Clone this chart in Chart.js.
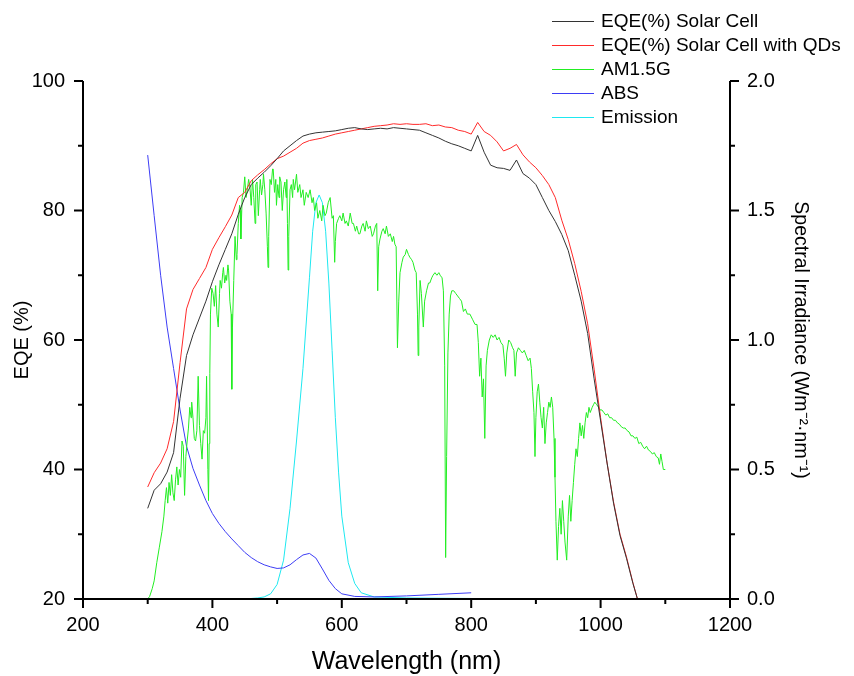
<!DOCTYPE html>
<html>
<head>
<meta charset="utf-8">
<title>EQE and AM1.5G spectrum</title>
<script src="https://cdn.jsdelivr.net/npm/chart.js@4.4.1/dist/chart.umd.min.js"></script>
<style>
    html, body { margin: 0; padding: 0; background: #fff; }
    #wrap { width: 854px; height: 676px; position: relative; }
</style>
</head>
<body>
<div id="wrap"><canvas id="eqeChart"></canvas></div>
<script>
// EQE curves, sampled every 10 nm
const eqeWavelength = [
    300, 310, 320, 330, 340, 350, 360, 370, 380, 390,
    400, 410, 420, 430, 440, 450, 460, 470, 480, 490,
    500, 510, 520, 530, 540, 550, 560, 570, 580, 590,
    600, 610, 620, 630, 640, 650, 660, 670, 680, 690,
    700, 710, 720, 730, 740, 750, 760, 770, 780, 790,
    800, 810, 820, 830, 840, 850, 860, 870, 880, 890,
    900, 910, 920, 930, 940, 950, 960, 970, 980, 990,
    1000, 1010, 1020, 1030, 1040, 1050, 1057
];
const eqeCell = [
    34.0, 36.8, 37.8, 39.6, 42.6, 51.0, 57.6, 60.8, 63.4, 66.0,
    69.0, 71.6, 74.0, 76.4, 79.4, 82.0, 84.0, 85.0, 85.9, 86.9,
    88.0, 89.2, 90.0, 90.8, 91.5, 91.8, 92.0, 92.1, 92.2, 92.3,
    92.5, 92.7, 92.8, 92.6, 92.5, 92.6, 92.7, 92.6, 92.8, 92.7,
    92.6, 92.5, 92.4, 92.0, 91.6, 91.2, 90.7, 90.3, 90.0, 89.6,
    89.2, 91.6, 89.0, 87.0, 86.6, 86.5, 86.2, 87.8, 85.7, 85.0,
    84.0, 82.0, 80.0, 78.3, 76.3, 73.8, 70.0, 66.0, 61.0, 54.0,
    47.5, 41.0, 34.8, 29.8, 26.3, 22.4, 20.0
];
const eqeCellQD = [
    37.3, 39.5, 41.0, 43.2, 47.4, 56.5, 64.8, 67.8, 69.5, 71.2,
    74.0, 75.8, 77.5, 79.3, 82.0, 82.8, 84.6, 85.5, 86.3, 87.2,
    88.0, 88.4, 89.0, 89.6, 90.4, 90.8, 91.0, 91.2, 91.5, 91.8,
    92.0, 92.2, 92.4, 92.6, 92.8, 93.0, 93.1, 93.2, 93.4, 93.3,
    93.4, 93.3, 93.3, 93.4, 93.1, 93.2, 92.9, 92.8, 92.4, 92.2,
    91.8, 93.6, 92.2, 91.6, 90.6, 89.2, 89.6, 90.2, 88.6, 87.5,
    86.6, 85.4, 84.0, 82.0, 78.5, 75.5, 71.8, 67.5, 62.5, 55.5,
    48.0, 41.0, 35.0, 30.0, 26.5, 22.5, 20.0
];

// AM1.5G reference spectrum (W m-2 nm-1)
const amWavelength = [
    300, 303, 307, 310, 314, 318, 322, 325, 327, 329, 331, 333, 335, 337, 339, 341, 343, 345, 347, 349,
    351, 353, 355, 357, 359, 361, 363, 365, 367, 368, 370, 372, 374, 376, 378, 380, 382, 384, 386, 388,
    390, 391, 393, 394, 395, 396, 397, 399, 401, 403, 405, 407, 409, 411, 412, 414, 416, 417, 419, 421,
    422, 424, 425, 427, 429, 430, 431, 433, 435, 437, 438, 440, 442, 443, 444, 446, 448, 450, 452, 454,
    456, 458, 460, 462, 464, 466, 467, 469, 471, 473, 474, 476, 478, 479, 481, 483, 485, 486, 487, 489,
    491, 493, 494, 496, 498, 499, 501, 503, 504, 506, 508, 510, 512, 514, 515, 516, 517, 518, 520, 522,
    524, 525, 527, 530, 532, 535, 537, 540, 542, 545, 548, 551, 554, 556, 558, 561, 563, 566, 569, 571,
    574, 576, 579, 582, 585, 587, 589, 590, 592, 595, 597, 600, 602, 605, 607, 610, 613, 616, 618, 621,
    623, 626, 628, 631, 633, 636, 638, 641, 644, 647, 649, 652, 654, 655.5, 657, 659, 662, 664, 667, 669,
    672, 675, 678, 680, 682, 684, 686, 688, 690, 693, 695, 698, 700, 703, 705, 708, 710, 713, 715, 717,
    718, 719, 721, 723, 726, 728, 731, 734, 736, 739, 741, 744, 747, 750, 752, 755, 757, 759, 760.5, 762,
    764, 766, 768, 770, 773, 776, 779, 782, 785, 788, 791, 794, 798, 802, 806, 809, 811, 813, 815, 817,
    819, 821, 823, 825, 828, 831, 834, 837, 840, 843, 846, 849, 851, 853, 855, 858, 861, 864, 866, 868,
    870, 873, 876, 879, 882, 885, 888, 891, 893, 895, 897, 898.6, 900, 902, 904, 906, 908, 910, 912, 914,
    916, 918, 920, 922, 924, 926, 928, 929.5, 931, 933, 935, 937, 939, 941, 943, 945, 947.6, 950, 952, 954,
    956, 958, 960, 962, 964, 966, 968, 970, 972, 974, 976, 978, 980, 982, 984, 987, 989, 991, 994, 997,
    999, 1002, 1005, 1008, 1011, 1014, 1017, 1020, 1023, 1026, 1029, 1032, 1035, 1038, 1041, 1044, 1047, 1050, 1053, 1056,
    1059, 1062, 1065, 1068, 1071, 1074, 1077, 1080, 1083, 1086, 1089, 1091, 1093, 1095, 1097, 1100
];
const amIrradiance = [
    0.00, 0.01, 0.04, 0.07, 0.14, 0.20, 0.26, 0.32, 0.38, 0.43, 0.37, 0.45, 0.40, 0.48, 0.41, 0.38, 0.46, 0.51, 0.44, 0.50,
    0.47, 0.61, 0.59, 0.40, 0.55, 0.61, 0.66, 0.74, 0.70, 0.76, 0.70, 0.62, 0.61, 0.65, 0.86, 0.67, 0.60, 0.54, 0.65, 0.64,
    0.70, 0.86, 0.50, 0.38, 0.60, 0.87, 1.10, 1.20, 1.18, 1.13, 1.21, 1.10, 1.05, 1.18, 1.23, 1.20, 1.26, 1.28, 1.22, 1.25,
    1.23, 1.29, 1.27, 1.15, 1.10, 0.81, 1.05, 1.23, 1.40, 1.31, 1.33, 1.45, 1.52, 1.50, 1.39, 1.55, 1.57, 1.63, 1.55, 1.58,
    1.62, 1.59, 1.52, 1.62, 1.55, 1.45, 1.60, 1.61, 1.48, 1.58, 1.62, 1.56, 1.60, 1.64, 1.58, 1.49, 1.36, 1.28, 1.40, 1.62,
    1.60, 1.66, 1.66, 1.57, 1.62, 1.52, 1.60, 1.55, 1.63, 1.61, 1.50, 1.58, 1.61, 1.55, 1.62, 1.45, 1.27, 1.40, 1.58, 1.60,
    1.55, 1.62, 1.58, 1.64, 1.57, 1.60, 1.55, 1.58, 1.52, 1.57, 1.55, 1.58, 1.53, 1.55, 1.50, 1.53, 1.47, 1.50, 1.46, 1.52,
    1.48, 1.49, 1.53, 1.55, 1.47, 1.48, 1.30, 1.38, 1.45, 1.47, 1.48, 1.46, 1.49, 1.45, 1.46, 1.44, 1.49, 1.45, 1.45, 1.42,
    1.44, 1.41, 1.41, 1.44, 1.45, 1.42, 1.46, 1.43, 1.44, 1.40, 1.41, 1.44, 1.45, 1.19, 1.36, 1.39, 1.42, 1.43, 1.41, 1.44,
    1.40, 1.41, 1.38, 1.40, 1.37, 1.36, 0.97, 1.15, 1.26, 1.30, 1.32, 1.33, 1.35, 1.33, 1.32, 1.31, 1.30, 1.27, 1.26, 1.10,
    0.94, 1.05, 1.23, 1.18, 1.05, 1.15, 1.19, 1.22, 1.22, 1.24, 1.25, 1.26, 1.25, 1.26, 1.25, 1.24, 1.19, 0.90, 0.16, 0.55,
    0.95, 1.10, 1.17, 1.19, 1.19, 1.18, 1.17, 1.16, 1.15, 1.11, 1.12, 1.10, 1.10, 1.08, 1.06, 1.06, 0.99, 0.86, 0.93, 0.78,
    0.85, 0.62, 0.90, 0.96, 1.00, 1.02, 1.01, 1.02, 1.00, 1.01, 0.99, 0.98, 0.93, 0.86, 0.95, 1.00, 0.99, 0.97, 0.96, 0.86,
    0.95, 0.97, 0.96, 0.95, 0.96, 0.94, 0.92, 0.93, 0.89, 0.80, 0.72, 0.55, 0.70, 0.80, 0.83, 0.76, 0.70, 0.66, 0.74, 0.60,
    0.68, 0.72, 0.76, 0.74, 0.78, 0.74, 0.62, 0.47, 0.30, 0.15, 0.28, 0.35, 0.25, 0.38, 0.30, 0.22, 0.15, 0.32, 0.40, 0.30,
    0.38, 0.45, 0.52, 0.58, 0.55, 0.62, 0.68, 0.63, 0.67, 0.62, 0.68, 0.72, 0.70, 0.74, 0.72, 0.74, 0.75, 0.76, 0.75, 0.74,
    0.73, 0.73, 0.72, 0.71, 0.715, 0.70, 0.70, 0.69, 0.69, 0.68, 0.675, 0.665, 0.66, 0.66, 0.65, 0.645, 0.63, 0.63, 0.62, 0.625,
    0.60, 0.605, 0.59, 0.58, 0.59, 0.575, 0.57, 0.56, 0.565, 0.55, 0.545, 0.52, 0.56, 0.53, 0.50, 0.50
];

// normalised absorbance of the QD film
const absWavelength = [
    300, 310, 320, 330, 340, 350, 360, 370, 380, 390, 400, 410, 420, 430, 440, 450, 460, 470,
    480, 490, 500, 510, 520, 530, 540, 550, 560, 570, 580, 590, 600, 620, 650, 700, 750, 800
];
const absValue = [
    0.857, 0.740, 0.625, 0.525, 0.445, 0.365, 0.295, 0.252, 0.220, 0.190, 0.165, 0.146, 0.130, 0.116, 0.103, 0.090, 0.080, 0.072,
    0.066, 0.062, 0.059, 0.060, 0.066, 0.076, 0.085, 0.088, 0.079, 0.058, 0.036, 0.020, 0.010, 0.005, 0.004, 0.006, 0.009, 0.012
];

// normalised QD emission
const emWavelength = [
    400, 450, 470, 480, 490, 500, 510, 520, 530, 540, 550, 555, 560, 565, 570,
    575, 580, 585, 590, 595, 600, 610, 620, 630, 650, 700, 800
];
const emValue = [
    0.000, 0.000, 0.002, 0.004, 0.010, 0.028, 0.075, 0.175, 0.305, 0.445, 0.620, 0.710, 0.765, 0.780, 0.765,
    0.710, 0.610, 0.480, 0.350, 0.245, 0.160, 0.070, 0.030, 0.012, 0.004, 0.002, 0.001
];

// axis ticks
const xTickValues = [200, 400, 600, 800, 1000, 1200];
const xMinorValues = [300, 500, 700, 900, 1100];
const eqeTickValues = [20, 40, 60, 80, 100];
const eqeMinorValues = [30, 50, 70, 90];
const irrTickValues = [0, 0.5, 1.0, 1.5, 2.0];
const irrMinorValues = [0.25, 0.75, 1.25, 1.75];

const seriesColors = ['#333333', '#ff2a2a', '#22ee22', '#3d3df5', '#1ee8f0'];

const FONT = 'Arial, "Liberation Sans", sans-serif';

function toPoints(xs, ys) {
    return xs.map((x, i) => ({ x: x, y: ys[i] }));
}

function fixedTicks(values) {
    return (scale) => {
        scale.ticks = values.map((v) => ({ value: v }));
    };
}

// axis lines plus major / minor tick marks
const axisFrame = {
    id: 'axisFrame',
    afterDraw(chart) {
        const { ctx, chartArea: a } = chart;
        const sx = chart.scales.x;
        const sl = chart.scales.y;
        const sr = chart.scales.y1;
        const major = 9;
        const minor = 5;
        ctx.save();
        ctx.strokeStyle = '#000';
        ctx.lineWidth = 2;
        ctx.beginPath();
        ctx.moveTo(a.left, a.top);
        ctx.lineTo(a.left, a.bottom);
        ctx.moveTo(a.left, a.bottom);
        ctx.lineTo(a.right, a.bottom);
        ctx.moveTo(a.right, a.top);
        ctx.lineTo(a.right, a.bottom);

        xTickValues.forEach((v) => {
            const p = sx.getPixelForValue(v);
            ctx.moveTo(p, a.bottom);
            ctx.lineTo(p, a.bottom + major);
        });
        xMinorValues.forEach((v) => {
            const p = sx.getPixelForValue(v);
            ctx.moveTo(p, a.bottom);
            ctx.lineTo(p, a.bottom + minor);
        });
        eqeTickValues.forEach((v) => {
            const p = sl.getPixelForValue(v);
            ctx.moveTo(a.left, p);
            ctx.lineTo(a.left - major, p);
        });
        eqeMinorValues.forEach((v) => {
            const p = sl.getPixelForValue(v);
            ctx.moveTo(a.left, p);
            ctx.lineTo(a.left - minor, p);
        });
        irrTickValues.forEach((v) => {
            const p = sr.getPixelForValue(v);
            ctx.moveTo(a.right, p);
            ctx.lineTo(a.right + major, p);
        });
        irrMinorValues.forEach((v) => {
            const p = sr.getPixelForValue(v);
            ctx.moveTo(a.right, p);
            ctx.lineTo(a.right + minor, p);
        });
        ctx.stroke();
        ctx.restore();
    }
};

// legend stacked in the top right corner
const cornerLegend = {
    id: 'cornerLegend',
    afterDraw(chart) {
        const ctx = chart.ctx;
        const left = 552;
        const lineLen = 42;
        ctx.save();
        ctx.font = '19px ' + FONT;
        ctx.textBaseline = 'middle';
        ctx.textAlign = 'left';
        chart.data.datasets.forEach((ds, i) => {
            const y = 21 + i * 24;
            ctx.beginPath();
            ctx.strokeStyle = seriesColors[i];
            ctx.lineWidth = 1.2;
            ctx.moveTo(left, y + 0.5);
            ctx.lineTo(left + lineLen, y + 0.5);
            ctx.stroke();
            ctx.fillStyle = '#000';
            ctx.fillText(ds.label, left + lineLen + 7, y + 1);
        });
        ctx.restore();
    }
};

const lineStyle = {
    borderWidth: 1,
    pointRadius: 0,
    tension: 0,
    fill: false
};

new Chart(document.getElementById('eqeChart'), {
    type: 'line',
    data: {
        datasets: [
            Object.assign({ label: 'EQE(%) Solar Cell', data: toPoints(eqeWavelength, eqeCell), borderColor: seriesColors[0], yAxisID: 'y' }, lineStyle),
            Object.assign({ label: 'EQE(%) Solar Cell with QDs', data: toPoints(eqeWavelength, eqeCellQD), borderColor: seriesColors[1], yAxisID: 'y' }, lineStyle),
            Object.assign({ label: 'AM1.5G', data: toPoints(amWavelength, amIrradiance), borderColor: seriesColors[2], yAxisID: 'y1' }, lineStyle),
            Object.assign({ label: 'ABS', data: toPoints(absWavelength, absValue), borderColor: seriesColors[3], yAxisID: 'yNorm' }, lineStyle),
            Object.assign({ label: 'Emission', data: toPoints(emWavelength, emValue), borderColor: seriesColors[4], yAxisID: 'yNorm' }, lineStyle)
        ]
    },
    options: {
        responsive: true,
        maintainAspectRatio: false,
        animation: false,
        layout: { padding: { top: 81, left: 0, right: 0, bottom: 0 } },
        plugins: {
            legend: { display: false },
            tooltip: { enabled: false }
        },
        scales: {
            x: {
                type: 'linear',
                min: 200,
                max: 1200,
                afterBuildTicks: fixedTicks(xTickValues),
                afterFit: (s) => { s.height = 77; },
                grid: { display: false, drawTicks: false },
                border: { display: false },
                ticks: {
                    color: '#000',
                    font: { family: FONT, size: 20 },
                    padding: 14,
                    callback: (v) => String(v)
                },
                title: {
                    display: true,
                    text: 'Wavelength (nm)',
                    color: '#000',
                    font: { family: FONT, size: 25, lineHeight: 1 },
                    padding: { top: 0, bottom: 1 }
                }
            },
            y: {
                position: 'left',
                min: 20,
                max: 100,
                afterBuildTicks: fixedTicks(eqeTickValues),
                afterFit: (s) => { s.width = 83; },
                grid: { display: false, drawTicks: false },
                border: { display: false },
                ticks: { color: '#000', font: { family: FONT, size: 20 }, padding: 18 },
                title: {
                    display: true,
                    text: 'EQE (%)',
                    color: '#000',
                    font: { family: FONT, size: 20 },
                    padding: { top: 10, bottom: 0 }
                }
            },
            y1: {
                position: 'right',
                min: 0,
                max: 2,
                afterBuildTicks: fixedTicks(irrTickValues),
                afterFit: (s) => { s.width = 124; },
                grid: { display: false, drawTicks: false },
                border: { display: false },
                ticks: {
                    color: '#000',
                    font: { family: FONT, size: 20 },
                    padding: 17,
                    callback: (v) => Number(v).toFixed(1)
                },
                title: {
                    display: true,
                    text: 'Spectral Irradiance (Wm\u207B\u00B2\u00B7nm\u207B\u00B9)',
                    color: '#000',
                    font: { family: FONT, size: 19.5 },
                    padding: { top: 42, bottom: 0 }
                }
            },
            yNorm: {
                display: false,
                min: 0,
                max: 1
            }
        }
    },
    plugins: [axisFrame, cornerLegend]
});
</script>
</body>
</html>
